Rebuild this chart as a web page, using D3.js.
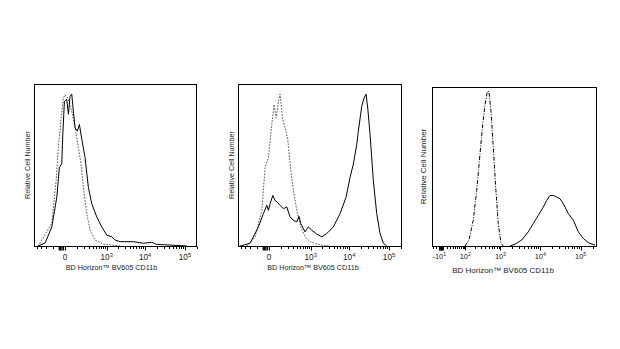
<!DOCTYPE html>
<html><head><meta charset="utf-8">
<script src="https://cdn.jsdelivr.net/npm/d3@7"></script>
<style>body{margin:0;background:#fff}svg{display:block}</style>
</head><body><svg id="c" width="620" height="349"></svg>
<script>
// ---------- data (fluorescence value, relative count 0-100) ----------
const p1SolidX = [-373,-216,-115,-61,-39,-21,-14,-4,10,21,33,47,61,78,103,128,162,216,282,365,520,727,1003,1371,1678,2271,5000,8970,14610,19510,42070,110200];
const p1SolidY = [0,1.9,11.9,30.4,49.0,51.2,69.8,90.1,91.4,82.1,93.2,94.6,84.0,73.6,71.6,75.7,66.5,55.1,36.6,26.4,18.1,11.9,6.8,5.7,3.7,2.7,2.7,1.7,2.3,1.0,0.6,0];
const p1DotX = [-373,-115,-68,-47,-28,-10,0,21,47,78,115,151,187,249,322,462,807,2271];
const p1DotY = [0,14.2,40.7,61.3,77.8,92.2,94.3,91.2,84.0,73.6,61.3,51.0,36.6,20.2,9.9,3.7,1.2,0];

const p2SolidX = [-431,-199,-85,-39,-14,-4,6,24,41,61,88,128,177,235,305,393,462,520,694,861,1068,1457,1978,2670,3951,5857,8314,10490,12710,15480,16980,20670,23610,26510,29240,33400,40410,49170,59470,71930,87520];
const p2SolidY = [0,1.7,11.9,20.2,25.3,22.2,26.4,31.5,28.4,27.3,25.3,23.3,24.3,18.1,16.0,15.0,18.5,14.0,8.8,11.9,9.9,7.4,5.7,7.8,11.9,20.2,30.4,42.8,51.0,63.4,71.6,87.0,92.2,94.6,86.0,69.6,40.7,20.2,7.8,1.7,0];
const p2DotX = [-261,-124,-52,-26,-4,17,33,50,71,88,115,151,193,235,305,393,520,694,959,1784,3250];
const p2DotY = [0,5.7,22.2,49.0,55.1,75.7,88.1,79.8,90.1,94.6,79.8,73.6,66.5,51.0,34.6,22.2,11.9,5.7,2.7,0.6,0];

const p3DashX = [98,133,181,229,284,338,391,451,501,567,652,753,878,1032,1182];
const p3DashY = [0,3.8,16.4,35.2,58.3,77.2,89.7,98.1,98.1,85.5,62.5,37.3,14.3,1.7,0];
const p3SolidX = [1751,2343,3452,5044,6720,8936,11900,14450,17460,21100,25610,30940,37290,49620,66040,87880,116640,155240,227520];
const p3SolidY = [0,1.1,3.8,9.0,14.3,19.5,24.7,28.9,32.1,32.1,31.0,30.0,26.9,20.6,16.4,9.0,4.8,2.1,0.6];

// ---------- ticks & labels ----------
const ticksAB = [0, 1000, 10000, 100000];
const tickLabelsAB = [["0",""],["10","3"],["10","4"],["10","5"]];
const minorAB = [-400,-300,-200,-100,100,200,300,400,500,600,700,800,900,2000,3000,4000,5000,6000,7000,8000,9000,20000,30000,40000,50000,60000,70000,80000,90000,200000];
const clusterAB = [-40,-30,-20,-10];
const ticksC = [-10, 100, 1000, 10000, 100000];
const tickLabelsC = [["-10","1"],["10","2"],["10","3"],["10","4"],["10","5"]];
const minorC = [-30,-20,10,20,30,40,50,60,70,80,90,200,300,400,500,600,700,800,900,2000,3000,4000,5000,6000,7000,8000,9000,20000,30000,40000,50000,60000,70000,80000,90000,200000];
const clusterC = [-8,-6,-4,-2,0];
const axisTitle = "BD Horizon\u2122 BV605 CD11b";
const yTitle = "Relative Cell Number";

// ---------- layout ----------
const svg = d3.select("#c");
const FONT = "Liberation Sans, Arial, sans-serif";
const panels = [
  {x0:34, x1:197, y0:84, y1:246, c:100, dom:[-500,200000], ticks:ticksAB, labels:tickLabelsAB, minor:minorAB, cluster:clusterAB,
   series:[{x:p1DotX,y:p1DotY,dash:"1.6,1.4",color:"#555"},{x:p1SolidX,y:p1SolidY,dash:null,color:"#000"}],
   fs:7.2, tfs:8.2, sfs:5.8, titleX:111.5, titleY:270, yLabX:27, tickY:260},
  {x0:238, x1:402, y0:84, y1:246, c:100, dom:[-500,211000], ticks:ticksAB, labels:tickLabelsAB, minor:minorAB, cluster:clusterAB,
   series:[{x:p2DotX,y:p2DotY,dash:"1.6,1.4",color:"#555"},{x:p2SolidX,y:p2SolidY,dash:null,color:"#000"}],
   fs:7.2, tfs:8.2, sfs:5.8, titleX:313, titleY:270, yLabX:231, tickY:260},
  {x0:432, x1:597, y0:87, y1:246, c:40, dom:[-36,254700], ticks:ticksC, labels:tickLabelsC, minor:minorC, cluster:clusterC,
   series:[{x:p3DashX,y:p3DashY,dash:"4,1.5,1,1.5",color:"#000"},{x:p3SolidX,y:p3SolidY,dash:null,color:"#000"}],
   fs:8, tfs:7.4, sfs:5.2, titleX:503, titleY:273, yLabX:423, tickY:259}
];

panels.forEach(p => {
  const x = d3.scaleSymlog().constant(p.c).domain(p.dom).range([p.x0, p.x1]);
  const y = d3.scaleLinear().domain([0, 100]).range([p.y1, p.y0 + 1.5]);
  const g = svg.append("g");

  // curves
  p.series.forEach(s => {
    const pts = s.x.map((v, i) => [v, s.y[i]]);
    g.append("path")
      .attr("d", d3.line().x(d => x(d[0])).y(d => y(d[1]))(pts))
      .attr("fill", "none").attr("stroke", s.color).attr("stroke-width", 1)
      .attr("stroke-dasharray", s.dash);
  });

  // frame
  g.append("rect").attr("x", p.x0 + 0.5).attr("y", p.y0 + 0.5)
    .attr("width", p.x1 - p.x0 - 1).attr("height", p.y1 - p.y0)
    .attr("fill", "none").attr("stroke", "#000").attr("stroke-width", 1);

  // ticks
  const tk = g.append("g").attr("stroke", "#000").attr("stroke-width", 1);
  p.minor.filter(v => v >= p.dom[0] && v <= p.dom[1]).forEach(v => {
    const xx = Math.round(x(v)) + 0.5;
    tk.append("line").attr("x1", xx).attr("x2", xx).attr("y1", p.y1 + 0.5).attr("y2", p.y1 + 3);
  });
  p.cluster.forEach(v => {
    const xx = x(v);
    tk.append("line").attr("x1", xx).attr("x2", xx).attr("y1", p.y1 + 0.5).attr("y2", p.y1 + 4.5).attr("stroke-width", 1.3);
  });
  p.ticks.forEach(v => {
    const xx = Math.round(x(v)) + 0.5;
    tk.append("line").attr("x1", xx).attr("x2", xx).attr("y1", p.y1 + 0.5).attr("y2", p.y1 + 4.5);
  });

  // tick labels
  p.ticks.forEach((v, i) => {
    const t = g.append("text").attr("x", x(v)).attr("y", p.tickY)
      .attr("text-anchor", "middle").attr("font-family", FONT)
      .attr("font-size", p.tfs).attr("fill", "#222");
    t.append("tspan").text(p.labels[i][0]);
    if (p.labels[i][1]) t.append("tspan").attr("dy", -3.4).attr("font-size", p.sfs).text(p.labels[i][1]);
  });

  // axis title
  g.append("text").attr("x", p.titleX).attr("y", p.titleY).attr("text-anchor", "middle")
    .attr("font-family", FONT).attr("font-size", p.fs).attr("fill", "#222").text(axisTitle);

  // y title
  g.append("text").attr("transform", `translate(${p.yLabX},${(p.y0 + p.y1) / 2}) rotate(-90)`)
    .attr("text-anchor", "middle").attr("dy", "0.35em")
    .attr("font-family", FONT).attr("font-size", p.fs).attr("fill", "#222").text(yTitle);
});
</script></body></html>
